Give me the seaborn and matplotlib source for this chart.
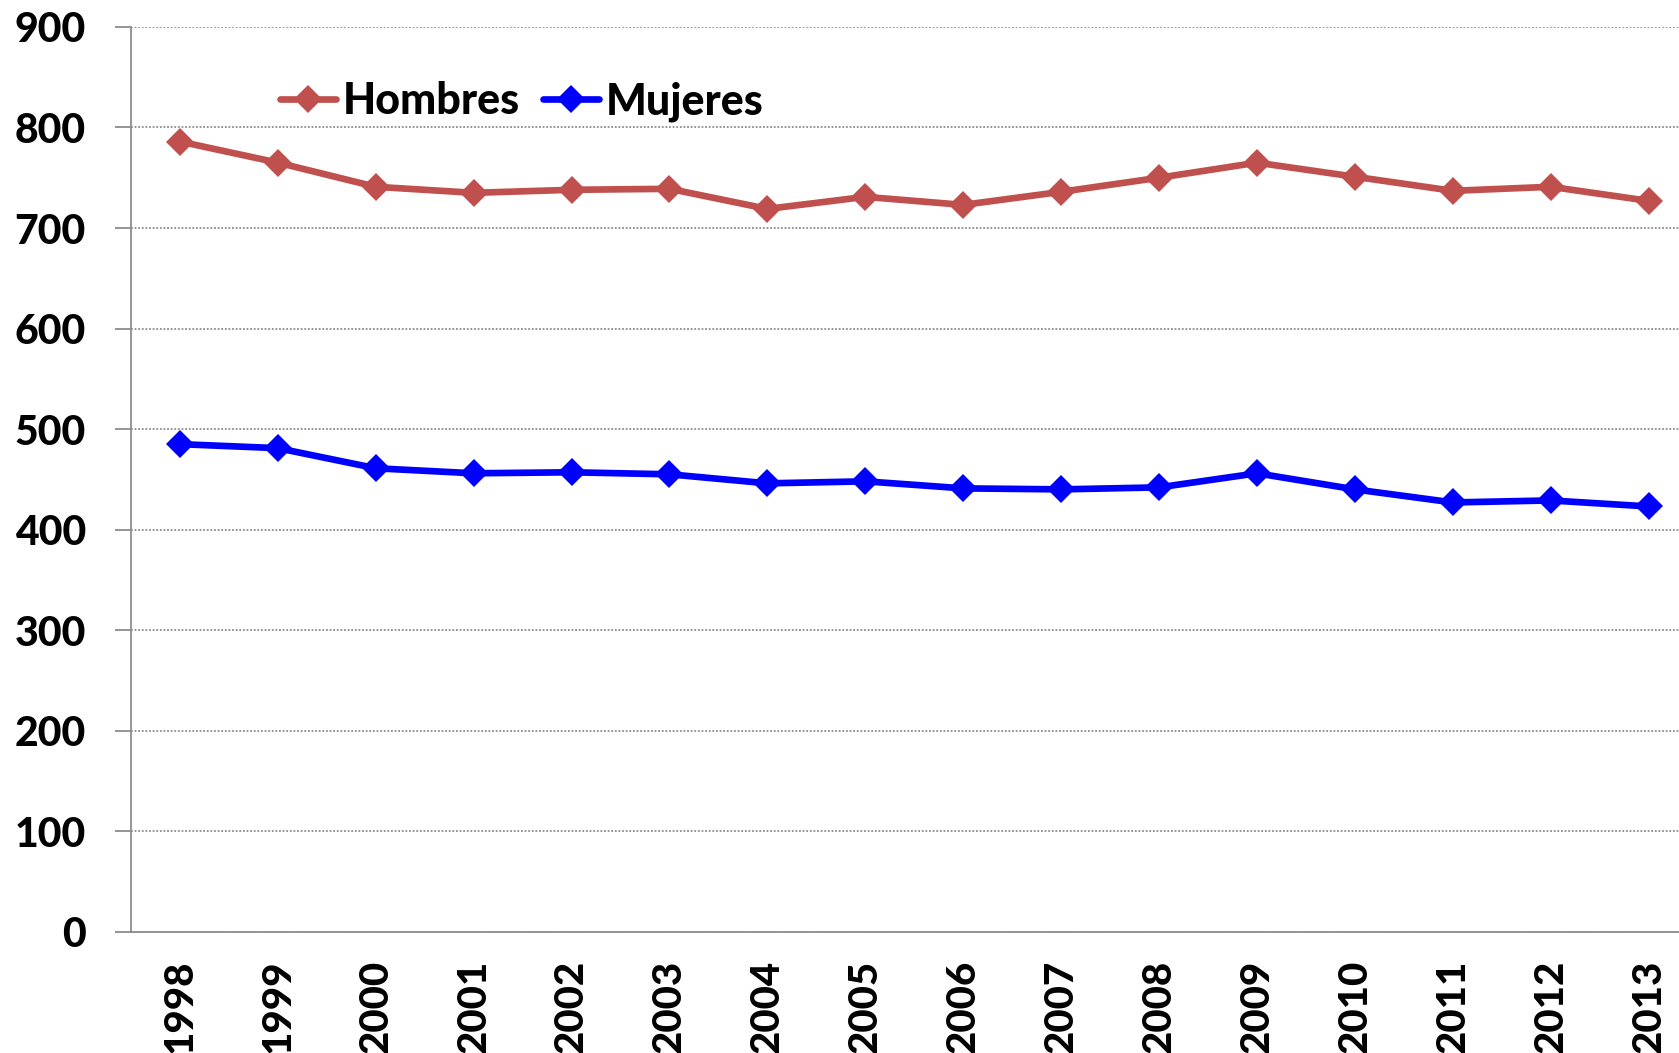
import pandas as pd
import matplotlib
matplotlib.use("Agg")
import matplotlib.pyplot as plt
import seaborn as sns

# Data
years = [1998, 1999, 2000, 2001, 2002, 2003, 2004, 2005,
         2006, 2007, 2008, 2009, 2010, 2011, 2012, 2013]
hombres = [786, 765, 741, 735, 738, 739, 719, 731,
           723, 736, 750, 765, 751, 737, 741, 727]
mujeres = [485, 481, 461, 456, 457, 455, 446, 448,
           441, 440, 442, 456, 440, 427, 429, 423]
series_names = ["Hombres", "Mujeres"]
colors = ["#C0504D", "#0000FF"]
yticks = [0, 100, 200, 300, 400, 500, 600, 700, 800, 900]

df = pd.DataFrame({
    "year": years * 2,
    "value": hombres + mujeres,
    "serie": [series_names[0]] * len(years) + [series_names[1]] * len(years),
})

sns.set_style("white")
plt.rcParams["font.family"] = ["Lato", "DejaVu Sans"]
plt.rcParams["text.color"] = "black"
plt.rcParams["xtick.labelcolor"] = "black"
plt.rcParams["ytick.labelcolor"] = "black"

fig = plt.figure(figsize=(16.79, 10.53), dpi=100)
ax = fig.add_axes([0.078, 0.1152, 0.922, 0.8592])

sns.lineplot(data=df, x="year", y="value", hue="serie",
             palette=dict(zip(series_names, colors)),
             marker="D", markersize=14, markeredgewidth=0,
             linewidth=4.8, ax=ax)

ax.set_xlim(1997.5, 2013.31)
ax.set_ylim(0, 900)
ax.set_xticks(years)
ax.set_xticklabels([str(y) for y in years], rotation=90,
                   fontsize=29, fontweight="black", color="black")
ax.set_yticks(yticks)
ax.set_yticklabels([str(v) for v in yticks], fontsize=29.5,
                   fontweight="black", color="black")
ax.set_xlabel("")
ax.set_ylabel("")

ax.grid(axis="y", color="#8c8c8c", linestyle=(0, (1, 1)), linewidth=1.3)
ax.set_axisbelow(True)
ax.tick_params(axis="y", length=11.5, width=1.3, color="#8c8c8c",
               pad=21, left=True, direction="out")
ax.tick_params(axis="x", length=0, pad=20)

for side in ["top", "right"]:
    ax.spines[side].set_visible(False)
for side in ["left", "bottom"]:
    ax.spines[side].set_color("#8c8c8c")
    ax.spines[side].set_linewidth(1.3)

leg = ax.legend(loc="center left", bbox_to_anchor=(0.0963, 0.9175),
                ncol=2, frameon=False, borderpad=0, borderaxespad=0,
                handlelength=1.3, handletextpad=0.15, columnspacing=0.55,
                prop={"size": 31, "weight": "black", "family": "Lato"})
for t in leg.get_texts():
    t.set_color("black")

fig.savefig("out.png", dpi=100)
